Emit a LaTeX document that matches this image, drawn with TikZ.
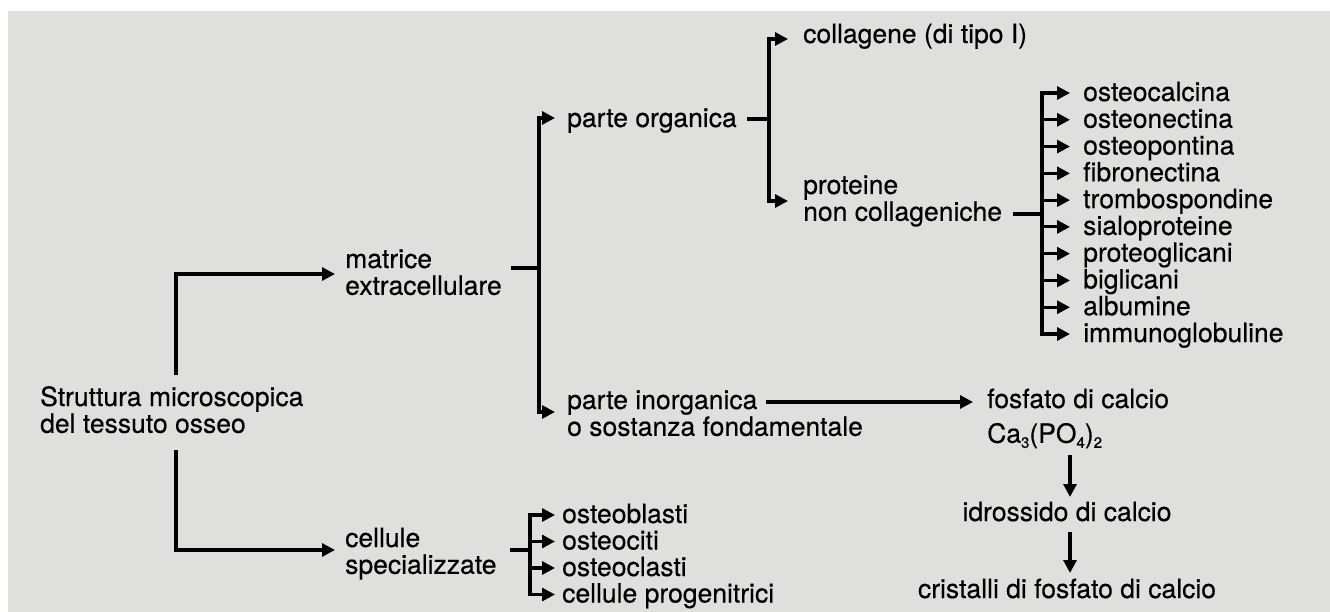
\documentclass[tikz,border=0pt]{standalone}
\usepackage{fontspec}
\setmainfont{TeX Gyre Heros}[FakeBold=0.4]
\usetikzlibrary{arrows.meta,calc}
\definecolor{bg}{RGB}{223,224,221}
\newcommand{\chemsub}[1]{\raisebox{-5pt}{\fontsize{15}{15}\selectfont #1}}
\begin{document}
\begin{tikzpicture}[x=1pt,y=-1pt,
  lbl/.style={anchor=base west,inner sep=0pt,align=left,font=\fontsize{26.5}{26.8}\selectfont},
  ctr/.style={anchor=base,inner sep=0pt,font=\fontsize{26.5}{26.8}\selectfont},
  conn/.style={line width=3.1pt,black},
  arr/.style={conn,-{Triangle[length=13pt,width=13pt]}}]
\useasboundingbox (0,0) rectangle (1330,612);
\fill[white] (0,0) rectangle (1330,612);
\fill[bg] (8,11) rectangle (1330,612);
% nodes (multi-line nodes are placed at the baseline of their last line)
\node[lbl] (str) at (40,432.8) {Struttura microscopica\\del tessuto osseo};
\node[lbl] (mat) at (345,294.8) {matrice\\extracellulare};
\node[lbl] (cel) at (345,573.8) {cellule\\specializzate};
\node[lbl] (po) at (567,127) {parte organica};
\node[lbl] (pi) at (567,435.8) {parte inorganica\\o sostanza fondamentale};
\node[lbl] (col) at (803,43) {collagene (di tipo I)};
\node[lbl] (pro) at (803,220.8) {proteine\\non collageniche};
\foreach \t [count=\i] in {osteocalcina,osteonectina,osteopontina,fibronectina,trombospondine,sialoproteine,proteoglicani,biglicani,albumine,immunoglobuline}
  \node[lbl] (p\i) at (1083,{101+26.78*(\i-1)}) {\t};
\foreach \t [count=\i] in {osteoblasti,osteociti,osteoclasti,cellule progenitrici}
  \node[lbl] (c\i) at (562,{523+26.5*(\i-1)}) {\t};
\node[lbl] (fos) at (987,442.8) {fosfato di calcio\\[8pt]Ca\chemsub{3}(PO\chemsub{4})\chemsub{2}};
\node[ctr] (idr) at (1067,521) {idrossido di calcio};
\node[ctr] (cri) at (1067,598) {cristalli di fosfato di calcio};
% junctions
\coordinate (jm) at (539,268);
\coordinate (jo) at (769,119);
\coordinate (jp) at (1042,214);
\coordinate (jc) at (530,550);
% connectors
\draw[arr] ($(str.base west)+(136,-57.8)$) |- ($(mat.base west)+(-10,-20.8)$);
\draw[arr] ($(str.base west)+(136,17.2)$) |- ($(cel.base west)+(-10,-23.8)$);
\draw[conn] ($(mat.base east)+(9,-26.8)$) -- (jm);
\draw[arr] (jm) |- ($(po.base west)+(-12,-9)$);
\draw[arr] (jm) |- ($(pi.base west)+(-12,-23.8)$);
\draw[conn] ($(po.base east)+(10,-8)$) -- (jo);
\draw[arr] (jo) |- ($(col.base west)+(-15,-4)$);
\draw[arr] (jo) |- ($(pro.base west)+(-15,-19.8)$);
\draw[conn] ($(pro.base east)+(11,-6.8)$) -- (jp);
\foreach \i in {1,...,10} \draw[arr] (jp) |- ($(p\i.base west)+(-13,-8)$);
\draw[conn] ($(cel.base east)+(13,-23.8)$) -- (jc);
\foreach \i in {1,...,4} \draw[arr] (jc) |- ($(c\i.base west)+(-7,-8)$);
\draw[arr] ($(pi.base west)+(199,-33.8)$) -- ($(fos.base west)+(-14,-40.8)$);
\draw[arr] ($(fos.base west)+(83,12.2)$) -- ($(idr.base)+(3,-24)$);
\draw[arr] ($(idr.base)+(3,11)$) -- ($(cri.base)+(3,-25)$);
\end{tikzpicture}
\end{document}
